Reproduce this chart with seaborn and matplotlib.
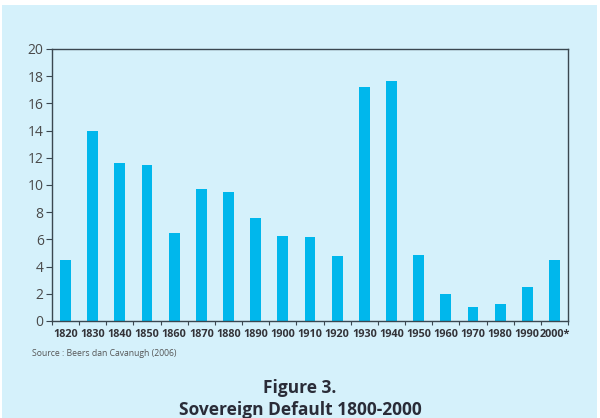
import numpy as np
import pandas as pd
import matplotlib
matplotlib.use('Agg')
import matplotlib.pyplot as plt
import seaborn as sns
from matplotlib.patches import Rectangle

# ============================================================
# Data
# ============================================================
decades = ['1820', '1830', '1840', '1850', '1860', '1870', '1880', '1890', '1900',
           '1910', '1920', '1930', '1940', '1950', '1960', '1970', '1980', '1990', '2000*']
defaults = [4.5, 14.0, 11.6, 11.5, 6.5, 9.7, 9.5, 7.6, 6.25,
            6.15, 4.8, 17.2, 17.65, 4.85, 2.0, 1.05, 1.25, 2.5, 4.5]

df = pd.DataFrame({'decade': decades, 'defaults': defaults})

BG = '#d5f1fb'
BAR = '#00b7ec'
TXT = '#333338'

sns.set_theme(style='white')
plt.rcParams['font.family'] = ['Open Sans', 'DejaVu Sans']

fig = plt.figure(figsize=(6.0, 4.18), dpi=100)
fig.patch.set_facecolor('white')
# light blue panel behind everything
fig.patches.append(Rectangle((2 / 600, 0), 595 / 600, 1 - 5 / 418,
                             transform=fig.transFigure, facecolor=BG,
                             edgecolor='none', zorder=-10))

ax = fig.add_axes([52 / 600, 1 - 321 / 418, 516 / 600, 272 / 418])
ax.set_facecolor(BG)

sns.barplot(data=df, x='decade', y='defaults', color=BAR, width=0.4,
            saturation=1, linewidth=0, ax=ax)

ax.set_xlim(-0.5, len(decades) - 0.5)
ax.set_ylim(0, 20)
ax.set_yticks(np.arange(0, 21, 2))
ax.set_xlabel('')
ax.set_ylabel('')

for s in ax.spines.values():
    s.set_visible(True)
    s.set_color('#3a4750')
    s.set_linewidth(1.0)

ax.tick_params(axis='y', direction='out', length=4, width=0.8, color='#3a4750',
               labelsize=10, labelcolor='#4a4a4a', pad=2, left=True)
ax.tick_params(axis='x', which='major', length=0, pad=6, labelsize=7.8,
               labelcolor=TXT)
for lbl in ax.get_xticklabels():
    lbl.set_fontweight('bold')
ax.set_xticks(np.arange(-0.5, len(decades)), minor=True)
ax.tick_params(axis='x', which='minor', direction='out', length=3, width=0.8,
               color='#3a4750', bottom=True)

fig.text(32 / 600, 1 - 354 / 418, 'Source : Beers dan Cavanugh (2006)',
         fontsize=6.2, color='#555555', va='center', ha='left')
fig.text(0.5, 1 - 388 / 418, 'Figure 3.', fontsize=12.5, fontweight='bold',
         color='#2a2c38', ha='center', va='center')
fig.text(0.5, 1 - 410 / 418, 'Sovereign Default 1800-2000', fontsize=12.5,
         fontweight='bold', color='#2a2c38', ha='center', va='center')

fig.savefig('out.png', dpi=100, facecolor=fig.get_facecolor())
